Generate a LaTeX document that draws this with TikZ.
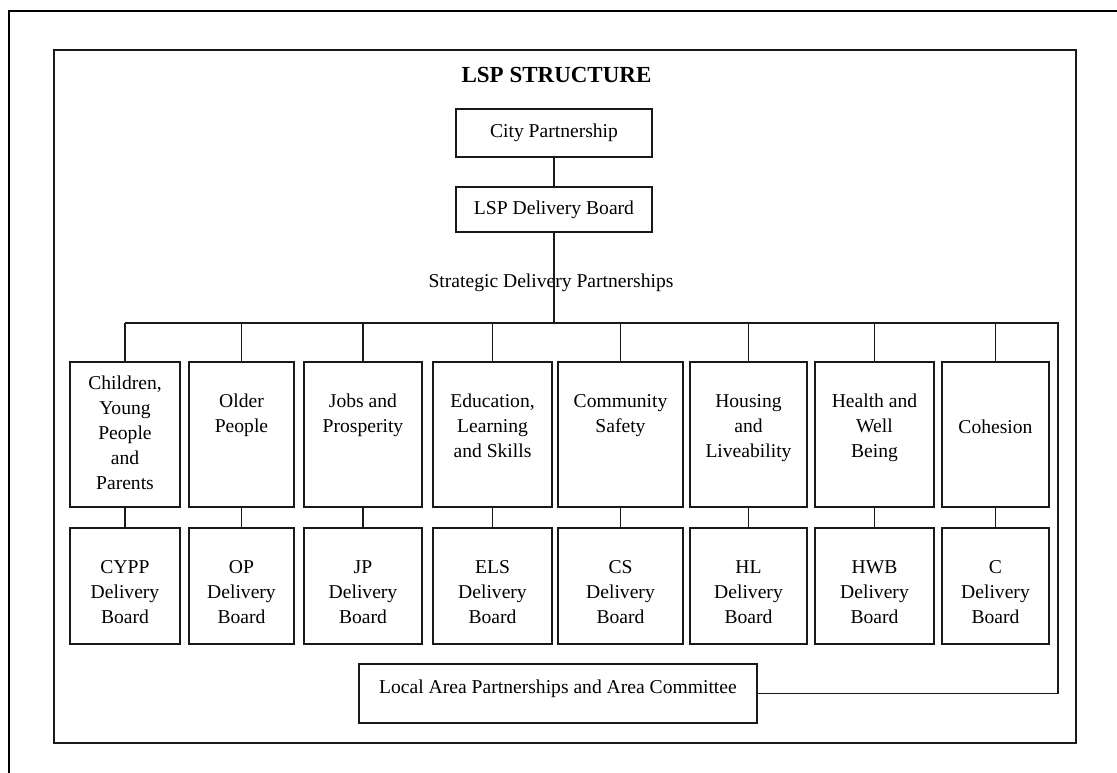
\documentclass[tikz,border=0pt]{standalone}
\usepackage{fontspec}
\setmainfont{Liberation Serif}
\usetikzlibrary{calc}
\begin{document}
\begin{tikzpicture}[x=1pt,y=-1pt,
  boxnode/.style={draw=black!90, line width=1.8pt, inner sep=0pt, outer sep=0pt},
  txt/.style={inner sep=0pt, outer sep=0pt, align=center, font=\fontsize{19.6}{25}\selectfont},
  conn/.style={draw=black!90, line width=1.9pt}]
\useasboundingbox (0,0) rectangle (1117,773);
% frames
\draw[line width=2.8pt] (1117,11) -- (9,11) -- (9,773);
\draw[line width=2pt, black!90] (54,50) rectangle (1076,743);
% title
\node[inner sep=0pt, anchor=base, font=\fontsize{23}{28}\selectfont\bfseries] (title) at (556.5,83) {LSP STRUCTURE};
% top boxes
\node[boxnode, txt, minimum width=196, minimum height=48] (cp) at (554,133) {City Partnership};
\node[boxnode, txt, minimum width=196, minimum height=45] (lsp) at (554,209.5) {LSP Delivery Board};
\node[txt, anchor=base] (sdp) at (551,287) {Strategic Delivery Partnerships};
% strategic partnerships (top row)
\node[boxnode, minimum width=110, minimum height=145] (t1) at (125,434.5) {};
\node[boxnode, minimum width=105, minimum height=145] (t2) at (241.5,434.5) {};
\node[boxnode, minimum width=118, minimum height=145] (t3) at (363,434.5) {};
\node[boxnode, minimum width=119, minimum height=145] (t4) at (492.5,434.5) {};
\node[boxnode, minimum width=125, minimum height=145] (t5) at (620.5,434.5) {};
\node[boxnode, minimum width=117, minimum height=145] (t6) at (748.5,434.5) {};
\node[boxnode, minimum width=119, minimum height=145] (t7) at (874.5,434.5) {};
\node[boxnode, minimum width=107, minimum height=145] (t8) at (995.5,434.5) {};
\node[txt, anchor=north] (t1t) at (125,371.5) {\strut Children,\\Young\\People\\and\\Parents};
\node[txt, anchor=north] (t2t) at (241.5,389.5) {\strut Older\\People};
\node[txt, anchor=north] (t3t) at (363,389.5) {\strut Jobs and\\Prosperity};
\node[txt, anchor=north] (t4t) at (492.5,389.5) {\strut Education,\\Learning\\and Skills};
\node[txt, anchor=north] (t5t) at (620.5,389.5) {\strut Community\\Safety};
\node[txt, anchor=north] (t6t) at (748.5,389.5) {\strut Housing\\and\\Liveability};
\node[txt, anchor=north] (t7t) at (874.5,389.5) {\strut Health and\\Well\\Being};
\node[txt, anchor=north] (t8t) at (995.5,415.5) {\strut Cohesion};
% delivery boards (bottom row)
\node[boxnode, minimum width=110, minimum height=116] (d1) at (125,586) {};
\node[boxnode, minimum width=105, minimum height=116] (d2) at (241.5,586) {};
\node[boxnode, minimum width=118, minimum height=116] (d3) at (363,586) {};
\node[boxnode, minimum width=119, minimum height=116] (d4) at (492.5,586) {};
\node[boxnode, minimum width=125, minimum height=116] (d5) at (620.5,586) {};
\node[boxnode, minimum width=117, minimum height=116] (d6) at (748.5,586) {};
\node[boxnode, minimum width=119, minimum height=116] (d7) at (874.5,586) {};
\node[boxnode, minimum width=107, minimum height=116] (d8) at (995.5,586) {};
\node[txt, anchor=north] (d1t) at (125,555.5) {\strut CYPP\\Delivery\\Board};
\node[txt, anchor=north] (d2t) at (241.5,555.5) {\strut OP\\Delivery\\Board};
\node[txt, anchor=north] (d3t) at (363,555.5) {\strut JP\\Delivery\\Board};
\node[txt, anchor=north] (d4t) at (492.5,555.5) {\strut ELS\\Delivery\\Board};
\node[txt, anchor=north] (d5t) at (620.5,555.5) {\strut CS\\Delivery\\Board};
\node[txt, anchor=north] (d6t) at (748.5,555.5) {\strut HL\\Delivery\\Board};
\node[txt, anchor=north] (d7t) at (874.5,555.5) {\strut HWB\\Delivery\\Board};
\node[txt, anchor=north] (d8t) at (995.5,555.5) {\strut C\\Delivery\\Board};
% local area partnerships
\node[boxnode, minimum width=398, minimum height=59] (lap) at (558,693.5) {};
\node[txt, anchor=base] (lapt) at (558,693) {Local Area Partnerships and Area Committee};
% connectors
\coordinate (bus) at (552,323);
\coordinate (busR) at (1058,323);
\draw[conn] (cp.south) -- (lsp.north);
\draw[conn] (lsp.south) -- (lsp.south |- bus);
\draw[conn] (t1.north |- bus) -- (busR) -- (busR |- lap.east) -- (lap.east);
\foreach \i in {1,...,8} {
  \draw[conn] (t\i.north |- bus) -- (t\i.north);
  \draw[conn] (t\i.south) -- (d\i.north);
}
\end{tikzpicture}
\end{document}
